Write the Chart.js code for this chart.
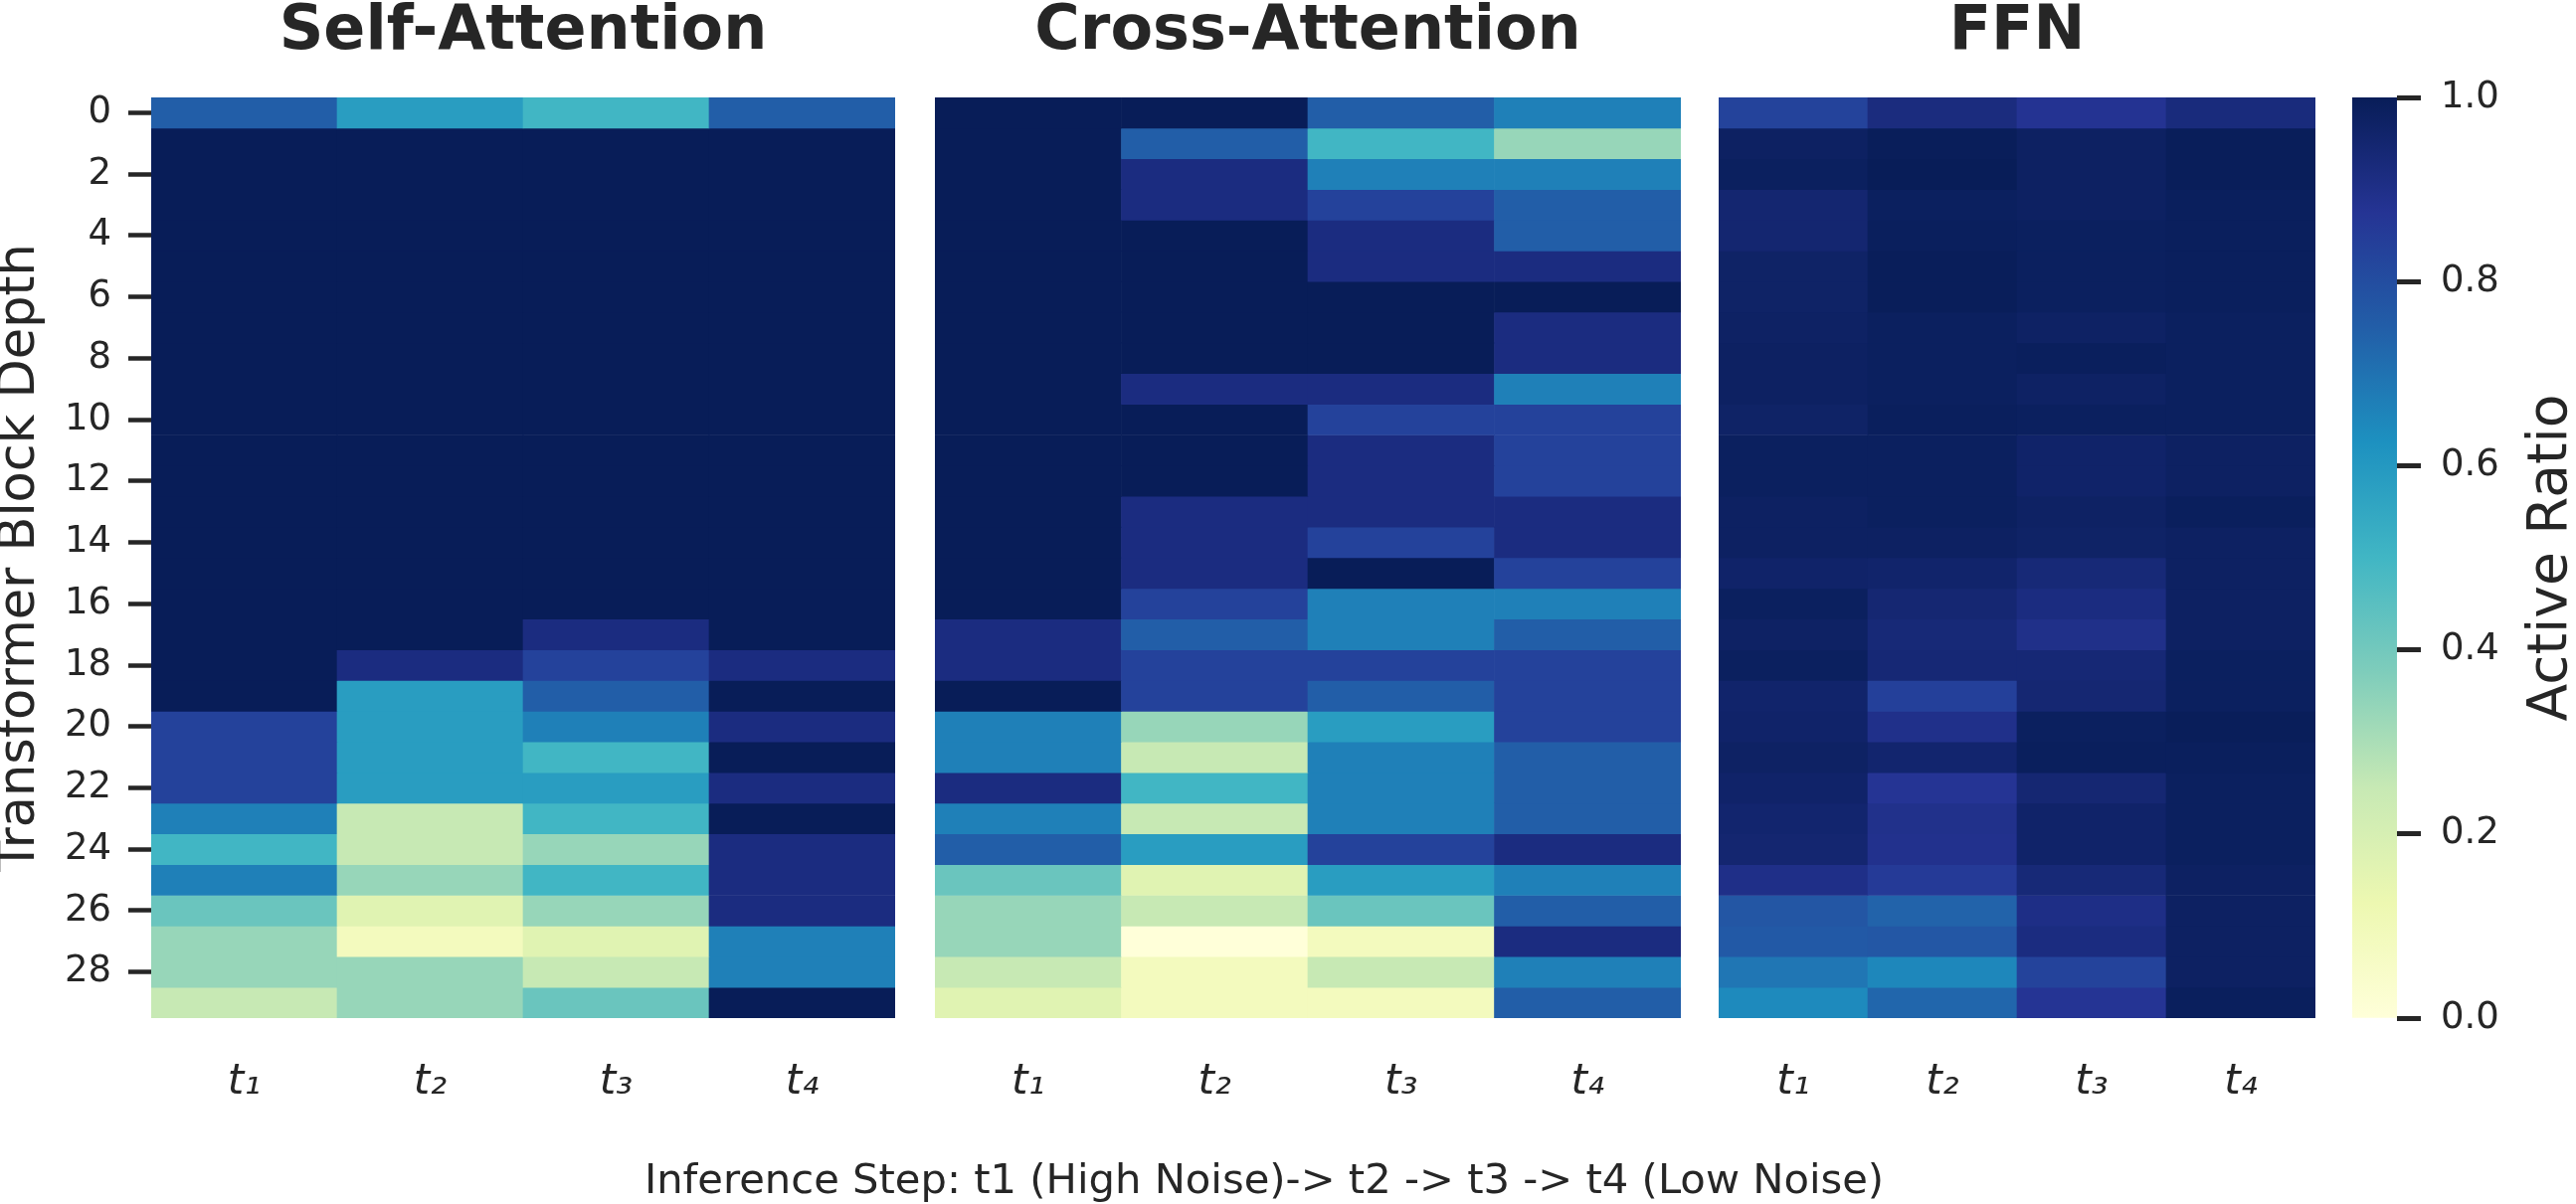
<!DOCTYPE html>
<html>
<head>
<meta charset="utf-8">
<script src="https://cdn.jsdelivr.net/npm/chart.js@4.4.1/dist/chart.umd.min.js"></script>
<style>
  body { margin:0; background:#fff; width:2590px; height:1211px; position:relative; overflow:hidden; }
  canvas { position:absolute; top:0; }
  #xlabel { position:absolute; left:0; width:2542px; top:1165px; text-align:center;
            font-family:'DejaVu Sans'; font-size:41.7px; line-height:41px; color:#262626; white-space:nowrap; }
</style>
</head>
<body>
<canvas id="selfChart" width="920" height="1211" style="left:0px"></canvas>
<canvas id="crossChart" width="790" height="1211" style="left:920px"></canvas>
<canvas id="ffnChart" width="640" height="1211" style="left:1710px"></canvas>
<canvas id="cbarChart" width="250" height="1211" style="left:2340px"></canvas>
<div id="xlabel">Inference Step: t1 (High Noise)-&gt; t2 -&gt; t3 -&gt; t4 (Low Noise)</div>
<script>
// categories / ticks
const steps = ['t₁', 't₂', 't₃', 't₄'];
const depthTicks = [0, 2, 4, 6, 8, 10, 12, 14, 16, 18, 20, 22, 24, 26, 28];
const cbarTicks = [0, 0.2, 0.4, 0.6, 0.8, 1.0];

// active ratio per block (rows 0..29), columns t1..t4
const selfAttn = [
  [0.75, 0.583, 0.5, 0.75],
  [1, 1, 1, 1], [1, 1, 1, 1], [1, 1, 1, 1], [1, 1, 1, 1],
  [1, 1, 1, 1], [1, 1, 1, 1], [1, 1, 1, 1], [1, 1, 1, 1],
  [1, 1, 1, 1], [1, 1, 1, 1], [1, 1, 1, 1], [1, 1, 1, 1],
  [1, 1, 1, 1], [1, 1, 1, 1], [1, 1, 1, 1], [1, 1, 1, 1],
  [1, 1, 0.917, 1],
  [1, 0.917, 0.833, 0.917],
  [1, 0.583, 0.75, 1],
  [0.833, 0.583, 0.667, 0.917],
  [0.833, 0.583, 0.5, 1],
  [0.833, 0.583, 0.583, 0.917],
  [0.667, 0.25, 0.5, 1],
  [0.5, 0.25, 0.333, 0.917],
  [0.667, 0.333, 0.5, 0.917],
  [0.417, 0.167, 0.333, 0.917],
  [0.333, 0.083, 0.167, 0.667],
  [0.333, 0.333, 0.25, 0.667],
  [0.25, 0.333, 0.417, 1]
];

const crossAttn = [
  [1, 1, 0.75, 0.667],
  [1, 0.75, 0.5, 0.333],
  [1, 0.917, 0.667, 0.667],
  [1, 0.917, 0.833, 0.75],
  [1, 1, 0.917, 0.75],
  [1, 1, 0.917, 0.917],
  [1, 1, 1, 1],
  [1, 1, 1, 0.917],
  [1, 1, 1, 0.917],
  [1, 0.917, 0.917, 0.667],
  [1, 1, 0.833, 0.833],
  [1, 1, 0.917, 0.833],
  [1, 1, 0.917, 0.833],
  [1, 0.917, 0.917, 0.917],
  [1, 0.917, 0.833, 0.917],
  [1, 0.917, 1, 0.833],
  [1, 0.833, 0.667, 0.667],
  [0.917, 0.75, 0.667, 0.75],
  [0.917, 0.833, 0.833, 0.833],
  [1, 0.833, 0.75, 0.833],
  [0.667, 0.333, 0.583, 0.833],
  [0.667, 0.25, 0.667, 0.75],
  [0.917, 0.5, 0.667, 0.75],
  [0.667, 0.25, 0.667, 0.75],
  [0.75, 0.583, 0.833, 0.917],
  [0.417, 0.167, 0.583, 0.667],
  [0.333, 0.25, 0.417, 0.75],
  [0.333, 0, 0.083, 0.917],
  [0.25, 0.083, 0.25, 0.667],
  [0.167, 0.083, 0.083, 0.75]
];

const ffn = [
  [0.83, 0.92, 0.88, 0.925],
  [0.98, 0.995, 0.98, 0.995],
  [0.985, 1.0, 0.98, 0.995],
  [0.95, 0.985, 0.98, 0.99],
  [0.95, 0.99, 0.985, 0.99],
  [0.97, 0.995, 0.985, 0.99],
  [0.97, 0.995, 0.985, 0.99],
  [0.975, 0.985, 0.975, 0.985],
  [0.98, 0.985, 0.99, 0.985],
  [0.98, 0.985, 0.975, 0.985],
  [0.97, 0.99, 0.985, 0.985],
  [0.985, 0.985, 0.965, 0.98],
  [0.985, 0.985, 0.965, 0.98],
  [0.98, 0.985, 0.975, 0.99],
  [0.98, 0.98, 0.97, 0.98],
  [0.965, 0.96, 0.935, 0.98],
  [0.985, 0.945, 0.917, 0.98],
  [0.975, 0.935, 0.897, 0.98],
  [0.985, 0.94, 0.94, 0.985],
  [0.96, 0.84, 0.945, 0.985],
  [0.965, 0.896, 0.985, 0.995],
  [0.975, 0.955, 0.99, 0.99],
  [0.965, 0.875, 0.945, 0.985],
  [0.955, 0.893, 0.965, 0.985],
  [0.95, 0.89, 0.965, 0.985],
  [0.9, 0.857, 0.935, 0.98],
  [0.774, 0.738, 0.905, 0.98],
  [0.765, 0.771, 0.917, 0.98],
  [0.69, 0.65, 0.83, 0.98],
  [0.642, 0.73, 0.875, 0.99]
];

// YlGnBu colormap
const ylgnbuStops = ['#ffffd9', '#edf8b1', '#c7e9b4', '#7fcdbb', '#41b6c4', '#1d91c0', '#225ea8', '#253494', '#081d58'];
function hexRgb(h) {
  return [parseInt(h.slice(1, 3), 16), parseInt(h.slice(3, 5), 16), parseInt(h.slice(5, 7), 16)];
}
function ylgnbu(v) {
  const t = Math.min(Math.max(v, 0), 1) * 8;
  const i = Math.min(Math.floor(t), 7);
  const f = t - i;
  const a = hexRgb(ylgnbuStops[i]), b = hexRgb(ylgnbuStops[i + 1]);
  const c = a.map((x, k) => Math.round(x + (b[k] - x) * f));
  return `rgb(${c[0]},${c[1]},${c[2]})`;
}

Chart.defaults.font.family = 'DejaVu Sans';
Chart.defaults.color = '#262626';

const ink = '#262626';

function heatmap(id, title, values, pad, showDepth) {
  const datasets = values.map((row, r) => ({
    data: row.map(() => [r - 0.5, r + 0.5]),
    backgroundColor: row.map(ylgnbu),
    borderWidth: 0,
    grouped: false,
    barPercentage: 1,
    categoryPercentage: 1
  }));

  new Chart(document.getElementById(id), {
    type: 'bar',
    data: { labels: steps, datasets: datasets },
    options: {
      responsive: false,
      animation: false,
      devicePixelRatio: 1,
      layout: { padding: pad },
      plugins: {
        legend: { display: false },
        tooltip: { enabled: false },
        title: {
          display: true,
          text: title,
          fullSize: false,
          color: ink,
          font: { size: 62, weight: 'bold', lineHeight: 0.88 },
          padding: { top: 6, bottom: 37.4 }
        }
      },
      scales: {
        x: {
          grid: { display: false },
          border: { display: false },
          ticks: { color: ink, font: { size: 42, style: 'italic' }, padding: 32 },
          afterFit: s => { s.height = 100; }
        },
        y: {
          display: showDepth,
          min: -0.5,
          max: 29.5,
          reverse: true,
          afterBuildTicks: s => { s.ticks = depthTicks.map(v => ({ value: v })); },
          ticks: { color: ink, font: { size: 37 }, padding: 17, callback: v => String(v) },
          grid: { drawOnChartArea: false, tickLength: 23, tickWidth: 4.5, tickColor: ink },
          border: { display: false },
          title: {
            display: true,
            text: 'Transformer Block Depth',
            color: ink,
            font: { size: 51, lineHeight: 0.8 },
            padding: 0
          },
          afterFit: s => { s.width = showDepth ? 152 : 0; }
        }
      }
    }
  });
}

heatmap('selfChart', 'Self-Attention', selfAttn, { left: 0, right: 20, top: 0, bottom: 87 }, true);
heatmap('crossChart', 'Cross-Attention', crossAttn, { left: 20, right: 20, top: 0, bottom: 87 }, false);
heatmap('ffnChart', 'FFN', ffn, { left: 18, right: 22, top: 0, bottom: 87 }, false);

// colorbar
const cbarLabel = {
  id: 'cbarLabel',
  afterDraw(chart) {
    const a = chart.chartArea;
    const ctx = chart.ctx;
    ctx.save();
    ctx.translate(226, (a.top + a.bottom) / 2);
    ctx.rotate(-Math.PI / 2);
    ctx.font = '55px "DejaVu Sans"';
    ctx.fillStyle = ink;
    ctx.textAlign = 'center';
    ctx.textBaseline = 'middle';
    ctx.fillText('Active Ratio', 0, 0);
    ctx.restore();
  }
};

new Chart(document.getElementById('cbarChart'), {
  type: 'bar',
  data: {
    labels: ['Active Ratio'],
    datasets: [{
      data: [[0, 1]],
      backgroundColor: c => {
        const a = c.chart.chartArea;
        if (!a) return ylgnbuStops[4];
        const g = c.chart.ctx.createLinearGradient(0, a.bottom, 0, a.top);
        ylgnbuStops.forEach((col, i) => g.addColorStop(i / 8, col));
        return g;
      },
      borderWidth: 0,
      barPercentage: 1,
      categoryPercentage: 1
    }]
  },
  options: {
    responsive: false,
    animation: false,
    devicePixelRatio: 1,
    layout: { padding: { left: 25, right: 0, top: 98, bottom: 187 } },
    plugins: { legend: { display: false }, tooltip: { enabled: false } },
    scales: {
      x: { display: false },
      y: {
        position: 'right',
        min: 0,
        max: 1,
        afterBuildTicks: s => { s.ticks = cbarTicks.map(v => ({ value: v })); },
        ticks: { color: ink, font: { size: 37 }, padding: 20, callback: v => v.toFixed(1) },
        grid: { drawOnChartArea: false, tickLength: 24, tickWidth: 5, tickColor: ink },
        border: { display: false },
        afterFit: s => { s.width = 180; }
      }
    }
  },
  plugins: [cbarLabel]
});
</script>
</body>
</html>
